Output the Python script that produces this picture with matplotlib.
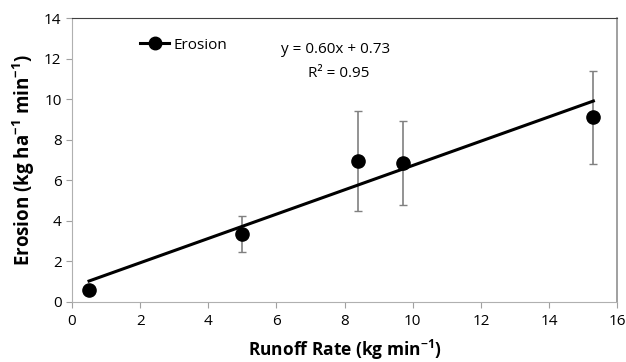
import numpy as np
import matplotlib.pyplot as plt
from matplotlib.lines import Line2D

plt.rcParams['font.family'] = ['Open Sans', 'DejaVu Sans']
plt.rcParams['mathtext.fontset'] = 'custom'
plt.rcParams['mathtext.rm'] = 'Open Sans'
plt.rcParams['mathtext.bf'] = 'Open Sans:bold'

# data
runoff = [0.5, 5.0, 8.4, 9.7, 15.3]
erosion = [0.6, 3.35, 6.95, 6.85, 9.1]
err = [0.2, 0.9, 2.45, 2.05, 2.3]
slope, intercept = 0.60, 0.73
r2 = 0.95

fig = plt.figure(figsize=(6.26, 3.62), dpi=100)
ax = fig.add_axes([0.115, 0.166, 0.871, 0.784])

x_fit = np.array([min(runoff), max(runoff)])
ax.plot(x_fit, slope * x_fit + intercept, color='black', linewidth=2.2, zorder=3)
ax.errorbar(runoff, erosion, yerr=err, fmt='none', ecolor='#808080',
            elinewidth=1.2, capsize=3, capthick=1.0, zorder=2)
ax.plot(runoff, erosion, 'o', color='black', markersize=9.5, zorder=4)

ax.set_xlim(0, 16)
ax.set_ylim(0, 14)
ax.set_xticks(range(0, 17, 2))
ax.set_yticks(range(0, 15, 2))
ax.tick_params(labelsize=11, color='#a0a0a0', length=4, width=0.8)
ax.tick_params(axis='x', pad=5)

for s in ['left', 'bottom']:
    ax.spines[s].set_color('#b0b0b0')
ax.spines['top'].set_color('#404040')
ax.spines['right'].set_color('#909090')
ax.spines['right'].set_linewidth(1.2)

ax.set_xlabel(r'Runoff Rate (kg min$^{\mathbf{-1}}$)', fontsize=12.5, fontweight='bold', labelpad=6)
ax.set_ylabel(r'Erosion (kg ha$^{\mathbf{-1}}$ min$^{\mathbf{-1}}$)', fontsize=13.5, fontweight='bold', labelpad=5)

h = Line2D([], [], color='black', linewidth=2.2, marker='o', markersize=9)
ax.legend([h], ['Erosion'], loc='center left', bbox_to_anchor=(0.1, 0.905),
          frameon=False, fontsize=11, handlelength=1.9, handletextpad=0.25)

ax.text(0.484, 0.891, f'y = {slope:.2f}x + {intercept:.2f}', transform=ax.transAxes,
        ha='center', va='center', fontsize=11)
ax.text(0.49, 0.806, f'R² = {r2:.2f}', transform=ax.transAxes,
        ha='center', va='center', fontsize=11)

fig.savefig('out.png', dpi=100)
